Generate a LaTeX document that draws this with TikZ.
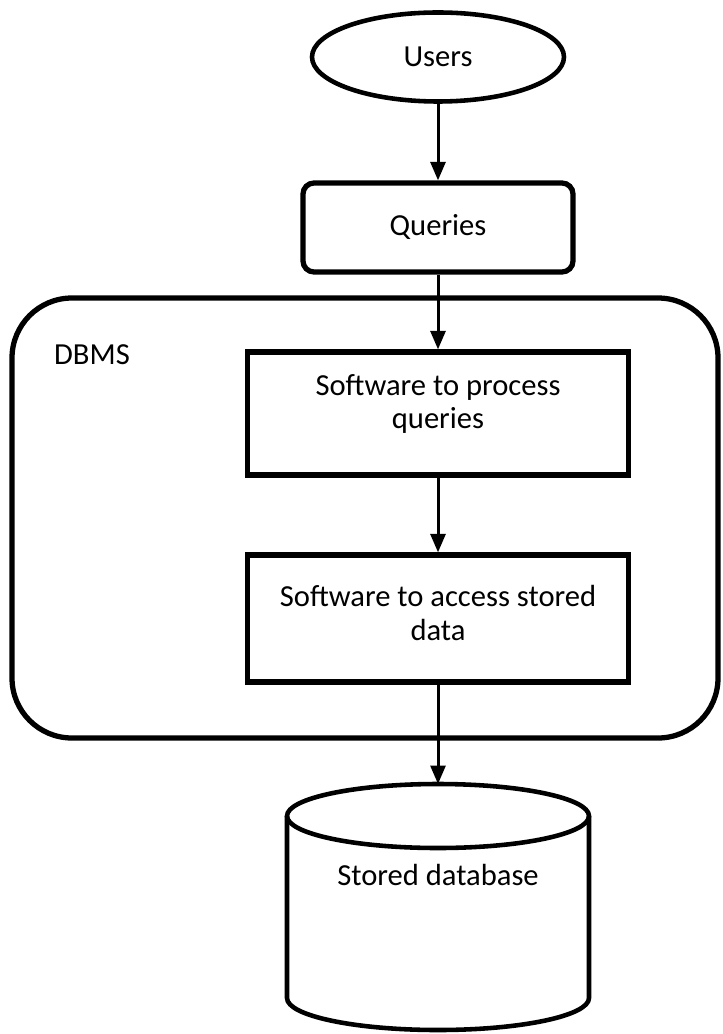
\documentclass[tikz,border=0pt]{standalone}
\usepackage{fontspec}
\setmainfont{Carlito}
\usepackage{tikz}
\usetikzlibrary{positioning, arrows.meta, shapes}

\begin{document}
\begin{tikzpicture}[
        label_font/.style={font=\fontsize{17.4}{18.8}\selectfont},
        user_style/.style={ellipse, draw, line width=2.6pt, inner sep=0pt, minimum width=5.04cm, minimum height=1.78cm, label_font},
        query_style/.style={rectangle, draw, line width=3pt, rounded corners=0.22cm, inner sep=0pt, minimum width=5.4cm, minimum height=1.78cm, label_font},
        box_style/.style={rectangle, draw, line width=3pt, inner sep=0pt, minimum width=7.62cm},
        dbms_style/.style={rectangle, draw, line width=3pt, rounded corners=1.2cm, inner sep=0pt, minimum width=14.12cm, minimum height=8.8cm},
        db_style/.style={line width=2.6pt},
        text_style/.style={align=center, inner sep=0pt, label_font},
        arrow_style/.style={-{Triangle[width=8.5pt, length=10.5pt]}, line width=1.7pt}
    ]
        \useasboundingbox (0,0) rectangle (14.44,-20.68);

        % DBMS frame
        \node[dbms_style] (dbms) at (7.3,-10.36) {};
        \node[text_style] (dbmslabel) at (1.84,-7.1) {DBMS};

        % Nodes
        \node[user_style] (users) at (8.76,-1.14) {Users};
        \node[query_style] (queries) at (8.76,-4.55) {\raisebox{3pt}{Queries}};
        \node[box_style, minimum height=2.46cm] (process) at (8.76,-8.27) {};
        \node[text_style] (processtext) at (8.76,-8.08) {Software to process\\queries};
        \node[box_style, minimum height=2.54cm] (access) at (8.76,-12.37) {};
        \node[text_style] (accesstext) at (8.76,-12.26) {Software to access stored\\data};

        % Stored database (cylinder)
        \coordinate (db) at (8.76,-15.68);
        \draw[db_style] (8.76,-16.32) ellipse (3.02 and 0.64);
        \draw[db_style] (5.74,-16.32) -- (5.74,-19.96) arc (180:360:3.02 and 0.64) -- (11.78,-16.32);
        \node[text_style] (dbtext) at (8.76,-17.5) {Stored database};

        % Arrows
        \draw[arrow_style] (users.south) -- (queries.north);
        \draw[arrow_style] (queries.south) -- (process.north);
        \draw[arrow_style] (process.south) -- (access.north);
        \draw[arrow_style] (access.south) -- (db);
\end{tikzpicture}
\end{document}
